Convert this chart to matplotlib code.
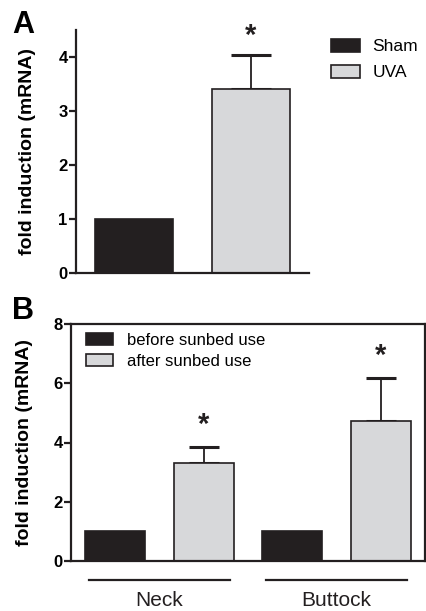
import numpy as np
import matplotlib
matplotlib.use("Agg")
import matplotlib.pyplot as plt
import matplotlib.transforms as mtransforms
from matplotlib.patches import Patch

plt.rcParams['font.family'] = ['Liberation Sans', 'DejaVu Sans']

# Panel A data
a_groups = ['Sham', 'UVA']
a_values = [1.0, 3.41]
a_err = [0.0, 0.63]
a_sig = [False, True]

# Panel B data
b_sites = ['Neck', 'Buttock']
b_series = ['before sunbed use', 'after sunbed use']
b_before = [1.0, 1.0]
b_after = [3.31, 4.74]
b_after_err = [0.54, 1.44]

dark = '#231f20'
grey = '#d7d8da'
W, H = 427, 611

fig = plt.figure(figsize=(W / 100, H / 100), dpi=100)

def px_axes(l, t, r, b):
    return fig.add_axes([l / W, 1 - b / H, (r - l) / W, (b - t) / H])

def style(ax):
    for s in ax.spines.values():
        s.set_linewidth(1.6)
        s.set_color(dark)
    ax.tick_params(axis='y', length=5, width=1.6, color=dark, pad=1,
                   labelsize=12)
    for lab in ax.get_yticklabels():
        lab.set_fontweight('bold')
    ax.tick_params(axis='x', length=0, labelbottom=False)

# ---- Panel A ----
axA = px_axes(76, 30, 309, 273)
xa = np.arange(len(a_groups))
colors_a = [dark, grey]
axA.bar(xa, a_values, width=0.67, color=colors_a,
        edgecolor=dark, linewidth=1.2, zorder=2)
for i in range(len(xa)):
    if a_err[i] > 0:
        axA.errorbar(xa[i], a_values[i], yerr=[[0], [a_err[i]]], fmt='none',
                     ecolor=dark, elinewidth=1.3, capsize=14.5, capthick=2.2,
                     zorder=1)
    if a_sig[i]:
        axA.text(xa[i], a_values[i] + a_err[i] + 0.35, '*', ha='center',
                 va='center', fontsize=21, fontweight='bold', color=dark)
axA.set_xlim(-0.5, 1.5)
axA.set_ylim(0, 4.5)
axA.set_yticks([0, 1, 2, 3, 4])
axA.spines['top'].set_visible(False)
axA.spines['right'].set_visible(False)
style(axA)
axA.set_ylabel('fold induction (mRNA)', fontsize=14, fontweight='bold',
               labelpad=16)
handlesA = [Patch(facecolor=c, edgecolor=dark, linewidth=1.2) for c in colors_a]
axA.legend(handlesA, a_groups, loc='upper left',
           bbox_to_anchor=(331 / W, 1 - 39 / H), bbox_transform=fig.transFigure,
           frameon=False, fontsize=12.5, handlelength=1.65, handleheight=0.75,
           handletextpad=0.75, labelspacing=0.6, borderaxespad=0, borderpad=0)
fig.text(12 / W, 1 - 25 / H, 'A', fontsize=22, fontweight='bold',
         va='center', ha='left')

# ---- Panel B ----
axB = px_axes(71, 324, 425, 561)
xb = np.arange(len(b_sites) * 2)
pos_before = xb[0::2]
pos_after = xb[1::2]
axB.bar(pos_before, b_before, width=0.68, color=dark, edgecolor=dark,
        linewidth=1.2, zorder=2, label=b_series[0])
axB.bar(pos_after, b_after, width=0.68, color=grey, edgecolor=dark,
        linewidth=1.2, zorder=2, label=b_series[1])
axB.errorbar(pos_after, b_after, yerr=[np.zeros(len(b_after)), b_after_err],
             fmt='none', ecolor=dark, elinewidth=1.3, capsize=11, capthick=2.2,
             zorder=1)
for p, v, e in zip(pos_after, b_after, b_after_err):
    axB.text(p, v + e + 0.75, '*', ha='center', va='center', fontsize=21,
             fontweight='bold', color=dark)
axB.set_xlim(-0.5, 3.5)
axB.set_ylim(0, 8)
axB.set_yticks([0, 2, 4, 6, 8])
style(axB)
axB.set_ylabel('fold induction (mRNA)', fontsize=14, fontweight='bold',
               labelpad=15)
axB.legend(loc='upper left', frameon=False, fontsize=12, handlelength=1.65,
           handleheight=0.75, handletextpad=0.8, labelspacing=0.35,
           borderaxespad=0, bbox_to_anchor=(15 / 354, 1 - 9 / 237),
           borderpad=0)

# group lines and labels under panel B
trans = mtransforms.blended_transform_factory(axB.transData, axB.transAxes)
for g, name in enumerate(b_sites):
    c = (pos_before[g] + pos_after[g]) / 2
    axB.plot([c - 0.8, c + 0.8], [-19 / 237, -19 / 237], color=dark, lw=1.6,
             transform=trans, clip_on=False)
    axB.text(c, -39 / 237, name, transform=trans, ha='center', va='center',
             fontsize=15, color=dark)
fig.text(12 / W, 1 - 311 / H, 'B', fontsize=22, fontweight='bold',
         va='center', ha='left')

fig.savefig('out.png', dpi=100)
